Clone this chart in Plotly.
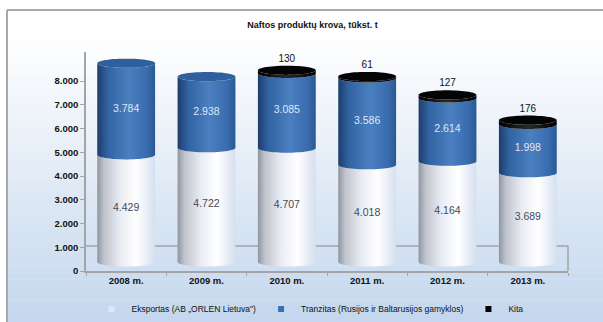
import numpy as np
import plotly.graph_objects as go

# ---------------- data ----------------
years = ["2008 m.", "2009 m.", "2010 m.", "2011 m.", "2012 m.", "2013 m."]
eksportas = [4429, 4722, 4707, 4018, 4164, 3689]
tranzitas = [3784, 2938, 3085, 3586, 2614, 1998]
kita = [0, 0, 130, 61, 127, 176]
series_names = ["Eksportas (AB „ORLEN Lietuva\")",
                "Tranzitas (Rusijos ir Baltarusijos gamyklos)",
                "Kita"]
y_ticks = [0, 1000, 2000, 3000, 4000, 5000, 6000, 7000, 8000]
title_text = "Naftos produktų krova, tūkst. t"

# ---------------- styling ----------------
W, H = 603, 322
PL, PR, PT, PB = 86, 568, 52, 271          # plot area in pixels
HW = 0.36                                   # half width of cylinder (x units)
RY = 190                                    # ellipse half-height (bar-axis units)
FONT = "Liberation Sans, Arial, sans-serif"

cs_eks = [[0, "#8f959f"], [0.12, "#bfc4cd"], [0.4, "#e9ecf3"],
          [0.68, "#ffffff"], [1, "#d6dff0"]]
cs_tr = [[0, "#1d3d6b"], [0.18, "#3263a2"], [0.55, "#4a7fc0"],
         [0.85, "#3a6db0"], [1, "#2a5993"]]
cs_k = [[0, "#000000"], [0.5, "#2a2a2a"], [1, "#000000"]]
cap_tr = "#2f5f9c"
cap_k = "#040404"


def fmt(v):
    return f"{v:,}".replace(",", ".")


def seg(i, y0, y1, n=30):
    t = np.linspace(np.pi, 2 * np.pi, n)
    xb = i + HW * np.cos(t)
    yb = y0 + RY * np.sin(t)
    xt = xb[::-1]
    yt = (y1 + RY * np.sin(t))[::-1]
    x = np.concatenate([xb, xt, xb[:1]])
    y = np.concatenate([yb, yt, yb[:1]])
    return x, y


def ell(i, yc, n=60):
    t = np.linspace(0, 2 * np.pi, n)
    return i + HW * np.cos(t), yc + RY * np.sin(t)


fig = go.Figure()

xs = list(range(len(years)))
for i in xs:
    levels = [0, eksportas[i], eksportas[i] + tranzitas[i],
              eksportas[i] + tranzitas[i] + kita[i]]
    for k, cs in enumerate([cs_eks, cs_tr, cs_k]):
        if levels[k + 1] - levels[k] <= 0:
            continue
        x, y = seg(i, levels[k], levels[k + 1])
        fig.add_trace(go.Scatter(
            x=x, y=y, mode="none", fill="toself", yaxis="y2",
            fillgradient=dict(type="horizontal", colorscale=cs,
                              start=i - HW, stop=i + HW),
            showlegend=False, hoverinfo="skip"))
    x, y = ell(i, levels[3])
    fig.add_trace(go.Scatter(
        x=x, y=y, mode="none", fill="toself", yaxis="y2",
        fillcolor=cap_k if kita[i] > 0 else cap_tr,
        showlegend=False, hoverinfo="skip"))

# value labels
fig.add_trace(go.Scatter(
    x=xs, y=[e / 2 for e in eksportas], yaxis="y2", mode="text",
    text=[fmt(v) for v in eksportas],
    textfont=dict(family=FONT, size=10.5, color="#474a52"),
    showlegend=False, hoverinfo="skip"))
fig.add_trace(go.Scatter(
    x=xs, y=[e + t / 2 for e, t in zip(eksportas, tranzitas)], yaxis="y2",
    mode="text", text=[fmt(v) for v in tranzitas],
    textfont=dict(family=FONT, size=10.5, color="#dfe7f3"),
    showlegend=False, hoverinfo="skip"))
kx = [i for i in xs if kita[i] > 0]
fig.add_trace(go.Scatter(
    x=kx, y=[eksportas[i] + tranzitas[i] + kita[i] + RY + 60 for i in kx],
    yaxis="y2", mode="text", textposition="top center",
    text=[fmt(kita[i]) for i in kx],
    textfont=dict(family=FONT, size=10, color="#111111"),
    showlegend=False, hoverinfo="skip"))

# legend entries
for name, col in zip(series_names, ["#dfe6f1", "#3b70b4", "#000000"]):
    fig.add_trace(go.Scatter(
        x=[None], y=[None], mode="markers", name=name,
        marker=dict(symbol="square", size=6, color=col,
                    line=dict(width=0))))

# ---------- background gradient (decoration) ----------
def px_x(p):
    return (p - PL) / (PR - PL)


def px_y(p):
    return (PB - p) / (PB - PT)


shapes = []
n = 40
top, bot = 40, 322
c0 = np.array([255, 255, 255])
c1 = np.array([196, 215, 238])
shapes.append(dict(type="rect", xref="paper", yref="paper", layer="below",
                   x0=px_x(7), x1=px_x(W), y0=px_y(10), y1=px_y(top),
                   fillcolor="white", line=dict(width=0)))
for k in range(n):
    p0 = top + (bot - top) * k / n
    p1 = top + (bot - top) * (k + 1) / n
    c = (c0 + (c1 - c0) * (k + 0.5) / n).astype(int)
    shapes.append(dict(type="rect", xref="paper", yref="paper", layer="below",
                       x0=px_x(7), x1=px_x(W), y0=px_y(p1), y1=px_y(p0) + 0.002,
                       fillcolor=f"rgb({c[0]},{c[1]},{c[2]})",
                       line=dict(width=0)))
# frame
shapes.append(dict(type="line", xref="paper", yref="paper", layer="below",
                   x0=px_x(7), x1=px_x(W), y0=px_y(10), y1=px_y(10),
                   line=dict(color="#a9a9a9", width=2)))
shapes.append(dict(type="line", xref="paper", yref="paper", layer="below",
                   x0=px_x(7), x1=px_x(7), y0=px_y(10), y1=px_y(H),
                   line=dict(color="#a9a9a9", width=2)))
# 3D floor back edge
shapes.append(dict(type="line", xref="paper", yref="paper", layer="below",
                   x0=0, x1=1, y0=px_y(246), y1=px_y(246),
                   line=dict(color="#a4a4a4", width=1.5)))
shapes.append(dict(type="line", xref="paper", yref="paper", layer="below",
                   x0=1, x1=1, y0=px_y(246), y1=0,
                   line=dict(color="#a4a4a4", width=1.5)))

# bar axis range so that 0 sits 9px above the axis baseline
scale = 24.2 / 1000.0
y2_lo = -(PB - 262) / scale
y2_hi = (262 - PT) / scale

fig.update_layout(
    width=W, height=H,
    margin=dict(l=PL, r=W - PR, t=PT, b=H - PB, autoexpand=False),
    paper_bgcolor="white", plot_bgcolor="rgba(0,0,0,0)",
    shapes=shapes,
    title=dict(text=title_text, x=(232 + 393) / 2 / W, xanchor="center",
               y=1 - 25 / H, yanchor="middle",
               font=dict(family=FONT, size=9, color="#111111", weight="bold")),
    xaxis=dict(range=[-0.5, 5.5], tickvals=xs, ticktext=years,
               showgrid=False, zeroline=False, showline=True,
               linecolor="#a4a4a4", linewidth=1.5, ticks="",
               minor=dict(ticks="outside", tick0=0.5, dtick=1, ticklen=3,
                          tickcolor="#a4a4a4", showgrid=False),
               tickfont=dict(family=FONT, size=9.5, color="#111111",
                             weight="bold"),
               fixedrange=True),
    yaxis=dict(range=[0, (PB - PT) / 23.75 * 1000], tickvals=y_ticks,
               ticktext=[fmt(v) for v in y_ticks],
               showgrid=False, zeroline=False, showline=True,
               linecolor="#a4a4a4", linewidth=1.5, ticks="outside",
               ticklen=4, tickcolor="#a4a4a4",
               tickfont=dict(family=FONT, size=9.5, color="#111111",
                             weight="bold"),
               fixedrange=True),
    yaxis2=dict(range=[y2_lo, y2_hi], overlaying="y", visible=False,
                fixedrange=True),
    legend=dict(orientation="h", xref="container", x=310 / W,
                xanchor="center", yref="container", y=1 - 309 / H,
                yanchor="middle", bgcolor="rgba(0,0,0,0)",
                font=dict(family=FONT, size=8.5, color="#111111"),
                itemwidth=30, tracegroupgap=0),
    showlegend=True,
)

fig.write_html("out.html")
